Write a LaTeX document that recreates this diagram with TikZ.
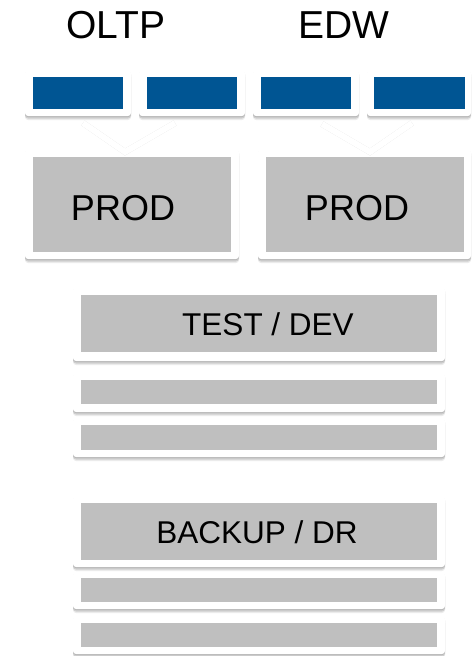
\documentclass[tikz,border=0pt]{standalone}
\usepackage{fontspec}
\setmainfont{Liberation Sans}
\usetikzlibrary{shadows}

\definecolor{dbblue}{RGB}{0,85,147}
\definecolor{slotgray}{RGB}{191,191,191}

\tikzset{
  frame/.style={draw=none,fill=white,rounded corners=3pt,inner sep=0pt,
    general shadow={shadow xshift=0pt,shadow yshift=-1pt,fill=black,opacity=0.12},
    general shadow={shadow xshift=0pt,shadow yshift=-2.5pt,fill=black,opacity=0.12},
    general shadow={shadow xshift=0pt,shadow yshift=-4pt,fill=black,opacity=0.08}},
  slot/.style={draw=none,fill=slotgray,inner sep=0pt},
  disk/.style={draw=none,fill=dbblue,inner sep=0pt},
  label/.style={anchor=base,inner sep=0pt,text=black},
  chevron/.style={white,line width=6pt,line join=miter}
}

\begin{document}
\begin{tikzpicture}[x=1pt,y=-1pt]
\useasboundingbox (0,0) rectangle (472,656);
\fill[white] (0,0) rectangle (472,656);

% column titles
\node[label,font=\fontsize{39}{45}\selectfont] (oltp) at (116,38) {OLTP};
\node[label,font=\fontsize{39}{45}\selectfont] (edw) at (344,38) {EDW};

% small blue units
\node[frame,minimum width=106pt,minimum height=46pt] (u1) at (78,93) {};
\node[frame,minimum width=106pt,minimum height=46pt] (u2) at (192,93) {};
\node[frame,minimum width=106pt,minimum height=46pt] (u3) at (306,93) {};
\node[frame,minimum width=104pt,minimum height=46pt] (u4) at (419,93) {};
\node[disk,minimum width=90pt,minimum height=32pt] (d1) at (78,93) {};
\node[disk,minimum width=90pt,minimum height=32pt] (d2) at (192,93) {};
\node[disk,minimum width=90pt,minimum height=32pt] (d3) at (306,93) {};
\node[disk,minimum width=91pt,minimum height=32pt] (d4) at (419.5,93) {};

% PROD boxes
\node[frame,minimum width=214pt,minimum height=110pt] (p1) at (132,204) {};
\node[frame,minimum width=213pt,minimum height=110pt] (p2) at (364.5,204) {};
\node[slot,minimum width=198pt,minimum height=95pt] (p1in) at (132,204.5) {};
\node[slot,minimum width=198pt,minimum height=95pt] (p2in) at (365,204.5) {};
\node[label,font=\fontsize{36}{42}\selectfont] (prod1) at (123,220) {PROD};
\node[label,font=\fontsize{36}{42}\selectfont] (prod2) at (357,220) {PROD};

% chevrons
\coordinate (c1l) at (83,123);
\coordinate (c1t) at (125,152);
\coordinate (c1r) at (175,123);
\coordinate (c2l) at (322,124);
\coordinate (c2t) at (370,152);
\coordinate (c2r) at (412,123);
\draw[black,line width=6pt,opacity=0.15,yshift=-2pt] (c1l) -- (c1t) -- (c1r);
\draw[black,line width=6pt,opacity=0.15,yshift=-2pt] (c2l) -- (c2t) -- (c2r);
\draw[chevron] (c1l) -- (c1t) -- (c1r);
\draw[chevron] (c2l) -- (c2t) -- (c2r);

% TEST / DEV
\node[frame,minimum width=372pt,minimum height=74pt] (t1) at (259,324) {};
\node[slot,minimum width=356pt,minimum height=57pt] (t1in) at (259,323.5) {};
\node[label,font=\fontsize{31.5}{37}\selectfont] (test) at (268,335) {TEST / DEV};
\node[frame,minimum width=372pt,minimum height=39pt] (t2) at (259,392.5) {};
\node[slot,minimum width=356pt,minimum height=24pt] (t2in) at (259,392) {};
\node[frame,minimum width=372pt,minimum height=39pt] (t3) at (259,437.5) {};
\node[slot,minimum width=356pt,minimum height=25pt] (t3in) at (259,437.5) {};

% BACKUP / DR
\node[frame,minimum width=372pt,minimum height=71pt] (b1) at (259,531.5) {};
\node[slot,minimum width=356pt,minimum height=57pt] (b1in) at (259,531.5) {};
\node[label,font=\fontsize{31.5}{37}\selectfont] (backup) at (257,543) {BACKUP / DR};
\node[frame,minimum width=372pt,minimum height=37pt] (b2) at (259,590.5) {};
\node[slot,minimum width=356pt,minimum height=24pt] (b2in) at (259,590) {};
\node[frame,minimum width=372pt,minimum height=38pt] (b3) at (259,635) {};
\node[slot,minimum width=356pt,minimum height=24pt] (b3in) at (259,635) {};
\end{tikzpicture}
\end{document}
